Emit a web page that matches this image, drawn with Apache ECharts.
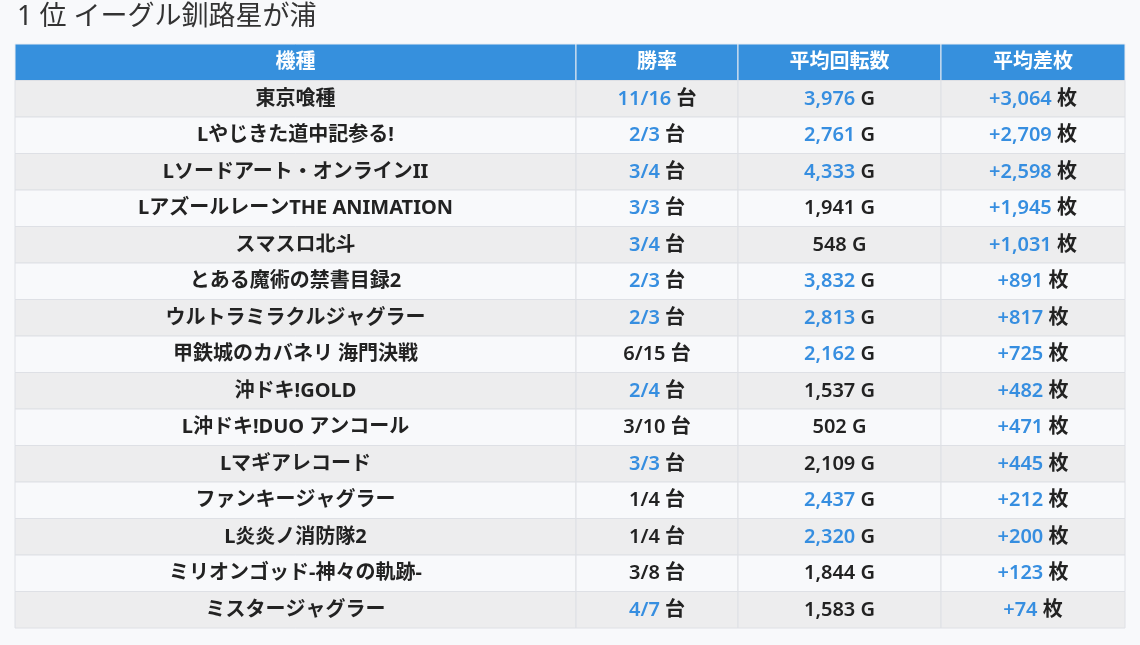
<!DOCTYPE html>
<html><head><meta charset="utf-8">
<script src="https://cdn.jsdelivr.net/npm/echarts@6/dist/echarts.min.js"></script>
<style>html,body{margin:0;padding:0;background:#f8f9fb;}#c{width:1140px;height:645px;}</style>
</head><body><div id="c"></div>
<script>
var title = '1 位 イーグル釧路星が浦';
var headers = ['機種', '勝率', '平均回転数', '平均差枚'];
var models = ['東京喰種', 'Lやじきた道中記参る!', 'Lソードアート・オンラインII', 'LアズールレーンTHE ANIMATION', 'スマスロ北斗', 'とある魔術の禁書目録2', 'ウルトラミラクルジャグラー', '甲鉄城のカバネリ 海門決戦', '沖ドキ!GOLD', 'L沖ドキ!DUO アンコール', 'Lマギアレコード', 'ファンキージャグラー', 'L炎炎ノ消防隊2', 'ミリオンゴッド-神々の軌跡-', 'ミスタージャグラー'];
var wins = ['11/16', '2/3', '3/4', '3/3', '3/4', '2/3', '2/3', '6/15', '2/4', '3/10', '3/3', '1/4', '1/4', '3/8', '4/7'];
var winHi = [1, 1, 1, 1, 1, 1, 1, 0, 1, 0, 1, 0, 0, 0, 1];
var spins = [3976, 2761, 4333, 1941, 548, 3832, 2813, 2162, 1537, 502, 2109, 2437, 2320, 1844, 1583];
var spinHi = [1, 1, 1, 0, 0, 1, 1, 1, 0, 0, 0, 1, 1, 0, 0];
var diffs = [3064, 2709, 2598, 1945, 1031, 891, 817, 725, 482, 471, 445, 212, 200, 123, 74];
var diffHi = [1, 1, 1, 1, 1, 1, 1, 1, 1, 1, 1, 1, 1, 1, 1];

var edges = [0, 561, 723, 926, 1110];
var FONT = "'Noto Sans', 'Noto Sans CJK JP', sans-serif";
var BLUE = '#368ee0', DARK = '#222';
function fmt(n) { return n.toLocaleString('en-US'); }

var rowsCat = ['header'].concat(models);
var data = [];
for (var r = 0; r < rowsCat.length; r++) for (var c = 0; c < 4; c++) data.push([c, r]);

function cellText(c, r) {
  if (r === 0) return '{h|' + headers[c] + '}';
  var i = r - 1;
  if (c === 0) return '{m|' + models[i] + '}';
  var num, unit, hi;
  if (c === 1) { num = wins[i]; unit = '台'; hi = winHi[i]; }
  else if (c === 2) { num = fmt(spins[i]); unit = 'G'; hi = spinHi[i]; }
  else { num = '+' + fmt(diffs[i]); unit = '枚'; hi = diffHi[i]; }
  return '{' + (hi ? 'b' : 'k') + '|' + num + '}{u| ' + unit + '}';
}

var chart = echarts.init(document.getElementById('c'));
chart.setOption({
  backgroundColor: '#f8f9fb',
  animation: false,
  title: { text: title, left: 12, top: -1, textStyle: { fontFamily: FONT, fontSize: 27, fontWeight: 'normal', color: '#333' } },
  grid: { left: 15, right: 15, top: 44, height: 584 },
  xAxis: { type: 'value', min: 0, max: 1110, show: false },
  yAxis: { type: 'category', data: rowsCat, inverse: true, show: false },
  series: [{
    type: 'custom',
    data: data,
    renderItem: function (params, api) {
      var c = api.value(0), r = api.value(1);
      var p0 = api.coord([edges[c], r]);
      var p1 = api.coord([edges[c + 1], r]);
      var h = api.size([0, 1])[1];
      var y0 = p0[1] - h / 2;
      var fill = r === 0 ? '#3690dd' : (r % 2 === 1 ? '#ededee' : '#f8f9fb');
      var stroke = r === 0 ? '#e8ecf2' : '#dee0e5';
      return {
        type: 'group',
        children: [
          { type: 'rect', shape: { x: p0[0], y: y0, width: p1[0] - p0[0], height: h }, style: { fill: fill, stroke: stroke, lineWidth: 1 } },
          { type: 'text', style: {
              x: (p0[0] + p1[0]) / 2, y: p0[1] + 0.5, align: 'center', verticalAlign: 'middle',
              text: cellText(c, r),
              rich: {
                h: { fontFamily: FONT, fontSize: 20, fontWeight: 'bold', fill: '#fff' },
                m: { fontFamily: FONT, fontSize: 20, fontWeight: 'bold', fill: DARK },
                b: { fontFamily: FONT, fontSize: 20, fontWeight: 600, fill: BLUE },
                k: { fontFamily: FONT, fontSize: 20, fontWeight: 600, fill: DARK },
                u: { fontFamily: FONT, fontSize: 20, fontWeight: 600, fill: DARK }
              }
            } }
        ]
      };
    }
  }]
});
</script></body></html>
